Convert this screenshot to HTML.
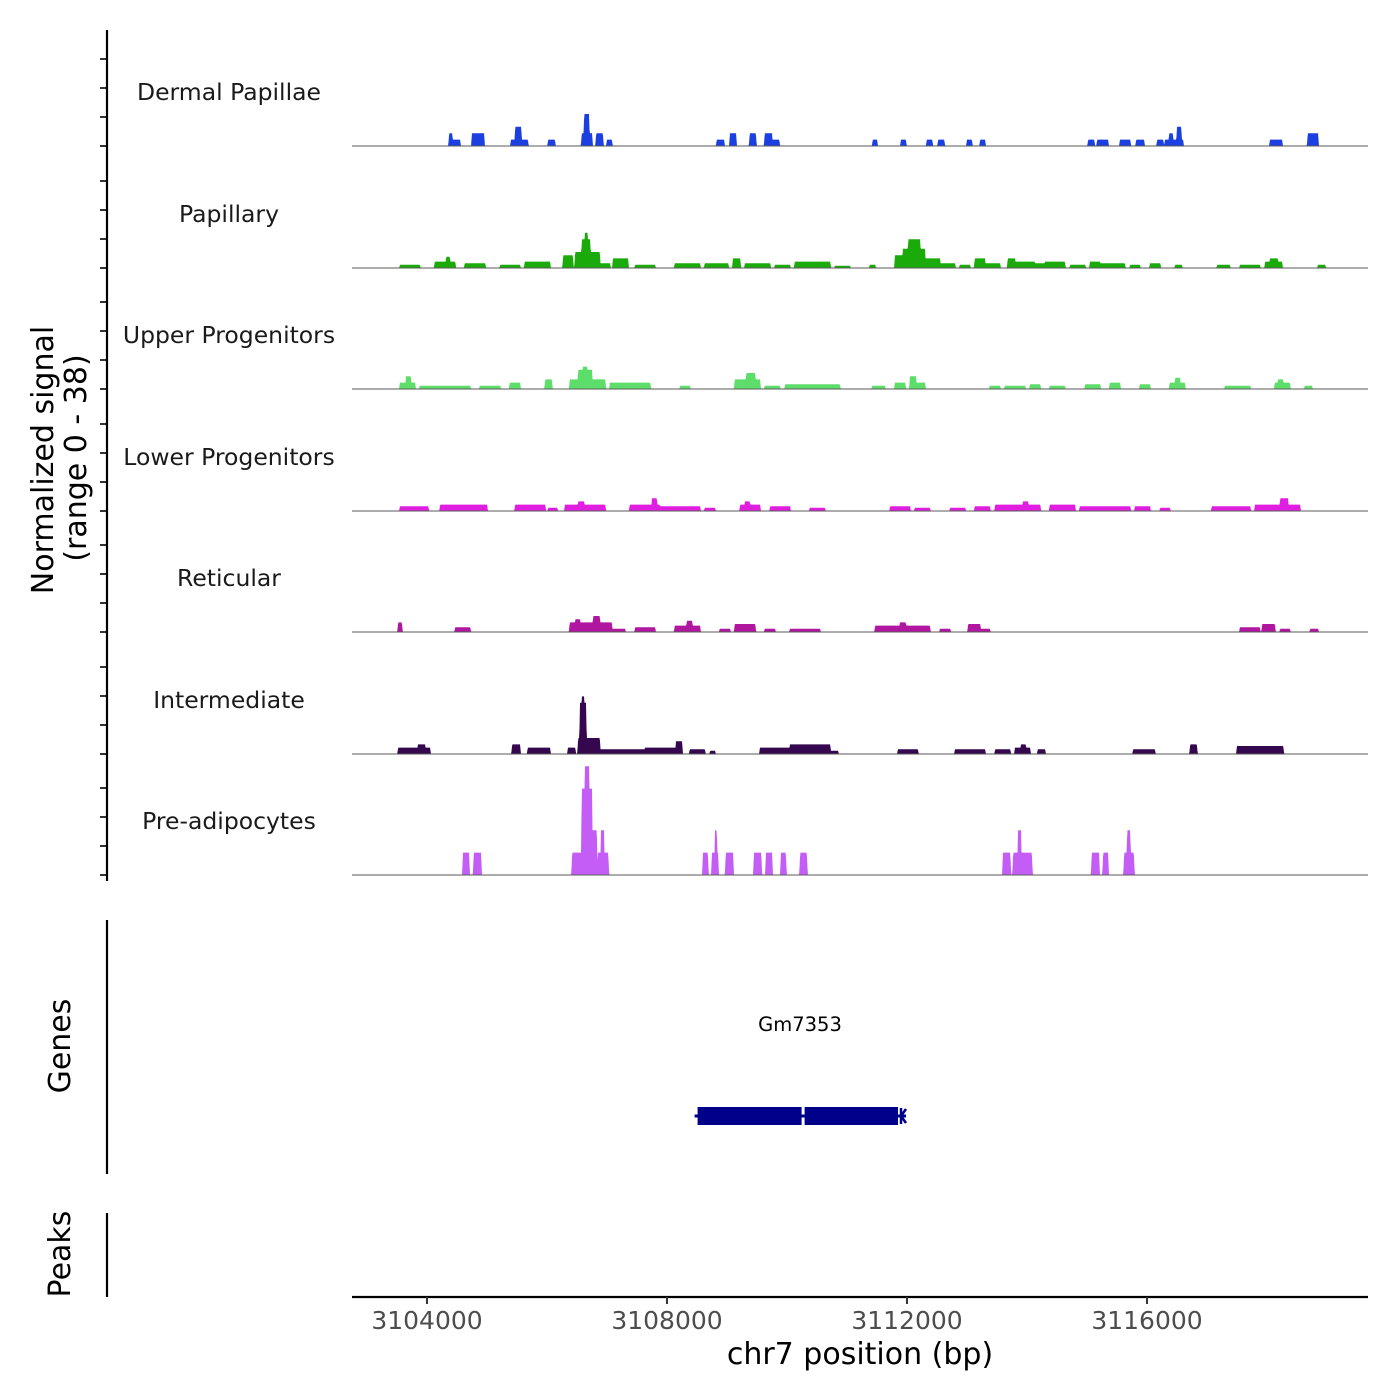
<!DOCTYPE html>
<html><head><meta charset="utf-8">
<style>
html,body{margin:0;padding:0;background:#fff;}
svg{display:block;font-family:"DejaVu Sans","Liberation Sans",sans-serif;}
</style></head>
<body>
<svg id="chart" width="1400" height="1400" viewBox="0 0 1400 1400" xmlns="http://www.w3.org/2000/svg">
<g id="tracks"></g>
<g id="axes"></g>
</svg>
<script>
// ---- data ----
const trackNames = ["Dermal Papillae","Papillary","Upper Progenitors","Lower Progenitors","Reticular","Intermediate","Pre-adipocytes"];
const trackColors = ["#1b3fe0","#1aab0a","#5ddd6a","#e01ee0","#b0169f","#35074f","#c35df5"];
const xTicks = [3104000,3108000,3112000,3116000];
const xTickLabels = ["3104000","3108000","3112000","3116000"];
const yRangeMax = 38;
const yTicks = [0,9,18,27];
// segments: [start bp, end bp, signal]
const dermalPapillae = [[3104370,3104420,4],[3104420,3104550,2],[3104750,3104950,4],[3105400,3105680,2],[3105470,3105570,6],[3106020,3106130,2],[3106580,3106750,4],[3106620,3106700,10],[3106820,3106930,4],[3107000,3107080,2],[3108830,3108950,2],[3109050,3109150,4],[3109380,3109480,4],[3109630,3109750,4],[3109750,3109870,2],[3111430,3111500,2],[3111900,3111980,2],[3112330,3112420,2],[3112520,3112620,2],[3113000,3113080,2],[3113220,3113300,2],[3115020,3115120,2],[3115170,3115350,2],[3115550,3115720,2],[3115820,3115950,2],[3116170,3116270,2],[3116300,3116600,2],[3116370,3116430,4],[3116500,3116570,6],[3118050,3118250,2],[3118680,3118850,4]];
const papillary = [[3103550,3103880,1],[3104130,3104470,2],[3104320,3104380,3.5],[3104630,3104970,1.5],[3105220,3105550,1],[3105630,3106050,2],[3106270,3106430,4],[3106470,3106880,5],[3106580,3106720,9],[3106630,3106680,11],[3106880,3107050,1.5],[3107100,3107350,3],[3107470,3107800,1],[3108130,3108550,1.5],[3108630,3109020,1.5],[3109100,3109220,3],[3109300,3109720,1.5],[3109800,3110050,1],[3110130,3110720,2],[3110800,3111050,0.7],[3111380,3111470,1],[3111800,3111930,4],[3111930,3112300,6],[3112020,3112220,9],[3112300,3112550,3],[3112550,3112800,1.5],[3112880,3113050,1],[3113130,3113300,3],[3113300,3113550,1.5],[3113680,3113800,3],[3113800,3114130,2],[3114130,3114300,1.5],[3114300,3114630,2],[3114720,3114970,1],[3115050,3115220,2],[3115220,3115630,1.5],[3115720,3115880,1],[3116050,3116220,1.5],[3116470,3116580,1],[3117170,3117380,1],[3117550,3117880,1],[3117970,3118250,2],[3118050,3118180,3],[3118850,3118970,1]];
const upperProgenitors = [[3103550,3103800,2],[3103650,3103730,4],[3103880,3104720,1],[3104880,3105220,1],[3105380,3105550,2],[3105970,3106080,3],[3106380,3106970,3],[3106520,3106750,6],[3106600,3106670,7],[3107050,3107720,2],[3108220,3108380,1],[3109130,3109550,3],[3109320,3109470,5],[3109630,3109880,1],[3109970,3110880,1.5],[3111420,3111630,1],[3111800,3111970,2],[3112050,3112150,4],[3112150,3112300,2],[3113380,3113550,1],[3113630,3113970,1],[3114050,3114220,1.5],[3114380,3114630,1],[3114970,3115220,1.5],[3115380,3115550,2],[3115880,3116050,1.5],[3116380,3116630,2],[3116470,3116550,3.5],[3117300,3117720,1],[3118130,3118380,2],[3118180,3118270,3],[3118630,3118750,1]];
const lowerProgenitors = [[3103550,3104020,1.5],[3104220,3105000,2],[3105470,3105970,2],[3106020,3106170,1],[3106300,3106970,2],[3106520,3106620,3],[3107380,3107880,2],[3107750,3107830,4],[3107880,3108550,1.5],[3108630,3108800,1],[3109220,3109550,2],[3109300,3109380,3],[3109720,3110050,1.5],[3110380,3110630,1],[3111720,3112050,1.5],[3112130,3112380,1],[3112720,3112970,1],[3113130,3113380,1.5],[3113470,3114220,2],[3113930,3114020,3],[3114380,3114800,2],[3114880,3115220,1.5],[3115220,3115720,1.5],[3115800,3116050,1.5],[3116220,3116380,1],[3117080,3117720,1.5],[3117800,3118550,2],[3118220,3118350,4]];
const reticular = [[3103520,3103580,3],[3104470,3104720,1.5],[3106380,3107080,3],[3106770,3106880,5],[3106470,3106550,4],[3107080,3107300,1],[3107470,3107800,1.5],[3108130,3108550,2],[3108330,3108420,3.5],[3108880,3109050,1],[3109130,3109470,2.5],[3109630,3109800,1],[3110050,3110550,1],[3111470,3112380,2],[3111880,3111980,3],[3112550,3112720,1],[3113020,3113220,2.5],[3113220,3113380,1],[3117550,3117880,1.5],[3117920,3118130,2.5],[3118220,3118380,1],[3118720,3118850,1]];
const intermediate = [[3103520,3104050,2],[3103850,3103970,3],[3105420,3105550,3],[3105680,3106050,2],[3106350,3106470,2],[3106520,3106880,5],[3106550,3106650,16],[3106580,3106620,18],[3106880,3107630,1.5],[3107630,3108220,2],[3108150,3108250,4],[3108380,3108630,1.5],[3108720,3108800,1],[3109550,3110050,2],[3110050,3110720,3],[3110720,3110850,1],[3111850,3112180,1.5],[3112800,3113300,1.5],[3113470,3113720,1.5],[3113800,3114050,2],[3113900,3113980,3],[3114180,3114300,1.5],[3115770,3116130,1.5],[3116720,3116830,3],[3117500,3118270,2.5]];
const preAdipocytes = [[3104600,3104700,7],[3104780,3104900,7],[3106420,3106580,7],[3106580,3106750,27],[3106630,3106700,34],[3106750,3106830,14],[3106850,3107020,7],[3106900,3106950,14],[3108600,3108680,7],[3108750,3108850,7],[3108800,3108830,14],[3108980,3109100,7],[3109450,3109570,7],[3109650,3109750,7],[3109900,3109980,7],[3110220,3110330,7],[3113600,3113720,7],[3113770,3114080,7],[3113850,3113900,14],[3115080,3115200,7],[3115270,3115350,7],[3115620,3115780,7],[3115670,3115720,14]];
const trackData = [dermalPapillae,papillary,upperProgenitors,lowerProgenitors,reticular,intermediate,preAdipocytes];
const geneName = "Gm7353";
const geneStart = 3108510;
const geneEnd = 3111850;
const geneGap = 3110260;

// ---- scales ----
const NS="http://www.w3.org/2000/svg";
const X0=352, X1=1368, BP0=3102750, BP1=3119683;
function xs(bp){return X0+(bp-BP0)/(BP1-BP0)*(X1-X0);}
const baselines=[146,268,389,511,632,754,875];
const pxPerUnit=3.2;
function ys(v,i){return baselines[i]-v*pxPerUnit;}
function mk(tag,attrs,parent){const e=document.createElementNS(NS,tag);for(const k in attrs)e.setAttribute(k,attrs[k]);parent.appendChild(e);return e;}

const tracksG=document.getElementById('tracks');
const axesG=document.getElementById('axes');

trackData.forEach((segs,i)=>{
  const pts=[];
  for(let px=X0;px<=X1;px+=0.5){
    let v=0;
    for(const s of segs){const a=xs(s[0]),b=xs(s[1]);
      if(px>=a&&px<=b){v=Math.max(v,s[2]);}
      else if(px>a-1&&px<a){v=Math.max(v,s[2]*(px-(a-1)));}
      else if(px>b&&px<b+1){v=Math.max(v,s[2]*((b+1)-px));}
    }
    pts.push([px,ys(v,i)]);
  }
  let d=`M${X0},${baselines[i]} `+pts.map(p=>`L${p[0].toFixed(1)},${p[1].toFixed(2)}`).join(' ')+` L${X1},${baselines[i]} Z`;
  const p=mk('path',{d:d,fill:trackColors[i],stroke:'none'},tracksG);
  
  
  const bl=mk('line',{x1:X0,x2:X1,y1:baselines[i],y2:baselines[i],stroke:'#5a5a5a','stroke-width':1},tracksG);
  
  
  const t=mk('text',{x:229,y:baselines[i]-46,'text-anchor':'middle','font-size':23.5,fill:'#1a1a1a'},tracksG);
  t.textContent=trackNames[i];
  
  
  yTicks.forEach(v=>{
    const ty=baselines[i]-v*(29/9);
    const tk=mk('line',{x1:100,x2:107,y1:ty,y2:ty,stroke:'#333','stroke-width':2},axesG);
    
    
  });
});

let l=mk('line',{x1:107,x2:107,y1:30,y2:881,stroke:'#000','stroke-width':2.2},axesG);


let yt=mk('text',{x:0,y:0,'text-anchor':'middle','font-size':30,fill:'#000',transform:'translate(53,460) rotate(-90)'},axesG);
yt.textContent='Normalized signal';


let yt2=mk('text',{x:0,y:0,'text-anchor':'middle','font-size':30,fill:'#000',transform:'translate(86,458) rotate(-90)'},axesG);
yt2.textContent='(range 0 - 38)';



let gl=mk('line',{x1:107,x2:107,y1:920,y2:1174,stroke:'#000','stroke-width':2.2},axesG);


let gt=mk('text',{x:0,y:0,'text-anchor':'middle','font-size':30,fill:'#000',transform:'translate(70,1046) rotate(-90)'},axesG);
gt.textContent='Genes';


let gn=mk('text',{x:800,y:1031,'text-anchor':'middle','font-size':19.5,fill:'#000'},axesG);
gn.textContent=geneName;


let gb1=mk('rect',{x:xs(geneStart),y:1107,width:xs(geneGap)-xs(geneStart)-1,height:18,fill:'#00008b'},axesG);


let gb2=mk('rect',{x:xs(geneGap)+2,y:1107,width:xs(geneEnd)-xs(geneGap)-2,height:18,fill:'#00008b'},axesG);


let gline=mk('line',{x1:xs(geneStart)-3,x2:xs(geneEnd)+8,y1:1116,y2:1116,stroke:'#00008b','stroke-width':3},axesG);


let ga=mk('path',{d:`M${xs(geneEnd)+8},1109 L${xs(geneEnd)+3},1116 L${xs(geneEnd)+8},1123 M${xs(geneEnd)+3},1108 L${xs(geneEnd)+3},1124`,stroke:'#00008b','stroke-width':2.5,fill:'none'},axesG);



let pl=mk('line',{x1:107,x2:107,y1:1213,y2:1297,stroke:'#000','stroke-width':2.2},axesG);


let pt=mk('text',{x:0,y:0,'text-anchor':'middle','font-size':30,fill:'#000',transform:'translate(70,1254) rotate(-90)'},axesG);
pt.textContent='Peaks';



let xl=mk('line',{x1:X0,x2:X1,y1:1297,y2:1297,stroke:'#000','stroke-width':2.2},axesG);


xTicks.forEach((v,k)=>{
  const tk=mk('line',{x1:xs(v),x2:xs(v),y1:1297,y2:1304,stroke:'#333','stroke-width':2},axesG);
  
  
  const tl=mk('text',{x:xs(v),y:1329,'text-anchor':'middle','font-size':25,fill:'#4d4d4d'},axesG);
  tl.textContent=xTickLabels[k];
  
  
});
let xt=mk('text',{x:860,y:1364,'text-anchor':'middle','font-size':30,fill:'#000'},axesG);
xt.textContent='chr7 position (bp)';


</script>
</body></html>
